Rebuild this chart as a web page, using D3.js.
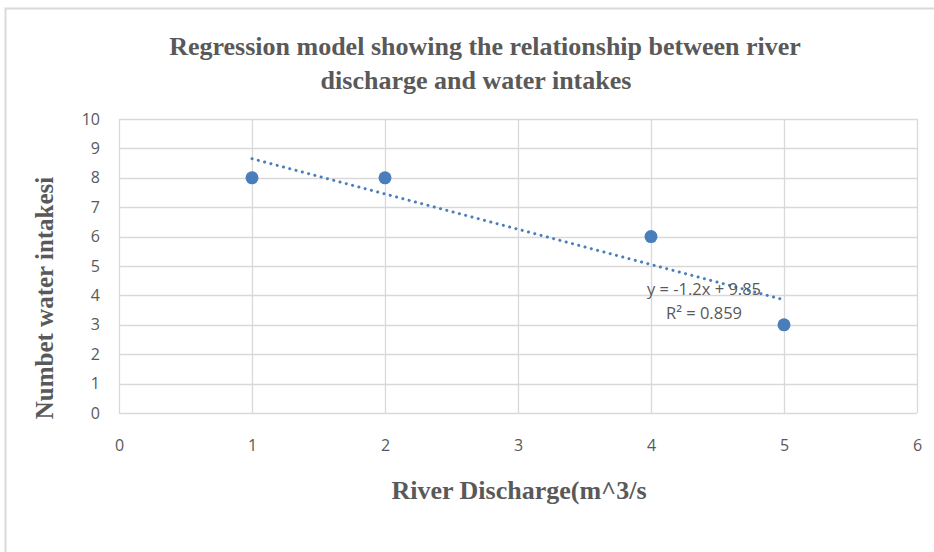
<!DOCTYPE html>
<html>
<head>
<meta charset="utf-8">
<script src="https://cdn.jsdelivr.net/npm/d3@7"></script>
<style>
	body { margin:0; background:#fff; }
	svg text { fill:#595959; }
</style>
</head>
<body>
<svg id="chart" width="934" height="552"></svg>
<script>
// chart data
var discharge = [1, 2, 4, 5];
var intakes = [8, 8, 6, 3];
var xTicks = [0, 1, 2, 3, 4, 5, 6];
var yTicks = [0, 1, 2, 3, 4, 5, 6, 7, 8, 9, 10];
var trendSlope = -1.2, trendIntercept = 9.85;
var titleLines = ["Regression model showing the relationship between river", "discharge and water intakes"];
var eqnLines = ["y = -1.2x + 9.85", "R\u00b2 = 0.859"];

var svg = d3.select("#chart");
var margin = {left: 119, top: 119, right: 17, bottom: 139},
		width = 934 - margin.left - margin.right,
		height = 552 - margin.top - margin.bottom;

// outer frame (runs off the right and bottom of the picture)
svg.append("rect")
		.attr("x", 5.5).attr("y", 8.5)
		.attr("width", 960).attr("height", 600)
		.style("fill", "none").style("stroke", "#d9d9d9").style("stroke-width", 2);

var x = d3.scaleLinear().domain([0, 6]).range([0, width]);
var y = d3.scaleLinear().domain([0, 10]).range([height, 0]);

var g = svg.append("g").attr("transform", "translate(" + margin.left + "," + margin.top + ")");

// grid
g.append("g").selectAll("line.h").data(yTicks).enter().append("line")
		.attr("x1", 0).attr("x2", width)
		.attr("y1", function(d) { return Math.round(y(d)) + 0.5; })
		.attr("y2", function(d) { return Math.round(y(d)) + 0.5; })
		.style("stroke", "#d9d9d9").style("stroke-width", 1.3);
g.append("g").selectAll("line.v").data(xTicks).enter().append("line")
		.attr("y1", 0).attr("y2", height)
		.attr("x1", function(d) { return Math.round(x(d)) + 0.5; })
		.attr("x2", function(d) { return Math.round(x(d)) + 0.5; })
		.style("stroke", "#d9d9d9").style("stroke-width", 1.3);

// tick labels
var yAxis = g.append("g").call(d3.axisLeft(y).tickValues(yTicks).tickFormat(d3.format("d")).tickSize(0).tickPadding(19));
var xAxis = g.append("g").attr("transform", "translate(0," + height + ")")
		.call(d3.axisBottom(x).tickValues(xTicks).tickFormat(d3.format("d")).tickSize(0).tickPadding(27));
[yAxis, xAxis].forEach(function(a) {
	a.select(".domain").remove();
	a.selectAll("text").style("font-family", "'Open Sans', sans-serif").style("font-size", "16px");
});

// trendline
var tx = d3.extent(discharge);
g.append("line")
		.attr("x1", x(tx[0])).attr("y1", y(trendSlope * tx[0] + trendIntercept))
		.attr("x2", x(tx[1])).attr("y2", y(trendSlope * tx[1] + trendIntercept))
		.style("stroke", "#4a7ebb").style("stroke-width", 3)
		.style("stroke-linecap", "round").style("stroke-dasharray", "0.1,6.4");

// points
g.append("g").selectAll("circle").data(discharge).enter().append("circle")
		.attr("cx", function(d) { return x(d); })
		.attr("cy", function(d, i) { return y(intakes[i]); })
		.attr("r", 6.5)
		.style("fill", "#4a7ebb");

// equation label
svg.append("g").selectAll("text").data(eqnLines).enter().append("text")
		.attr("x", 704)
		.attr("y", function(d, i) { return 295 + i * 24; })
		.attr("text-anchor", "middle")
		.style("font-family", "'Open Sans', sans-serif").style("font-size", "16.5px")
		.text(function(d) { return d; });

// titles
svg.append("g").selectAll("text").data(titleLines).enter().append("text")
		.attr("x", function(d, i) { return i ? 476 : 485; })
		.attr("y", function(d, i) { return 55 + i * 34; })
		.attr("text-anchor", "middle")
		.style("font-family", "'Liberation Serif', 'Times New Roman', serif")
		.style("font-weight", "bold").style("font-size", "26px")
		.text(function(d) { return d; });

svg.append("text")
		.attr("x", 519).attr("y", 499)
		.attr("text-anchor", "middle")
		.style("font-family", "'Liberation Serif', 'Times New Roman', serif")
		.style("font-weight", "bold").style("font-size", "26px")
		.text("River Discharge(m^3/s");

svg.append("text")
		.attr("transform", "translate(53,298) rotate(-90)")
		.attr("text-anchor", "middle")
		.style("font-family", "'Liberation Serif', 'Times New Roman', serif")
		.style("font-weight", "bold").style("font-size", "25px")
		.text("Numbet water intakesi");
</script>
</body>
</html>
